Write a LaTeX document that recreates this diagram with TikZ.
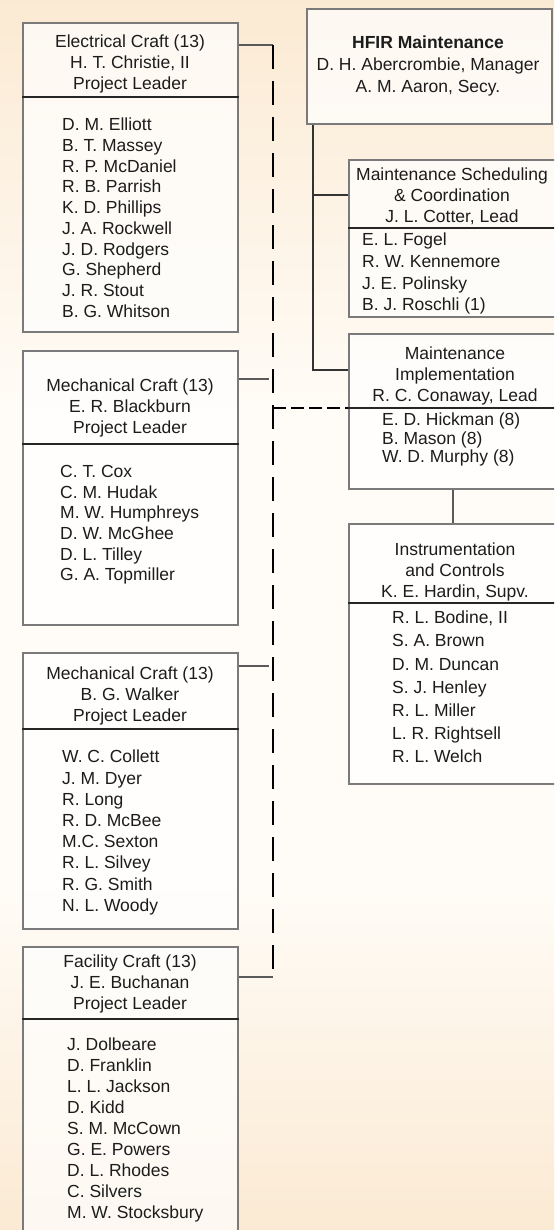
\documentclass[tikz,border=0pt]{standalone}
\usepackage{fontspec}
\setmainfont{Liberation Sans}
\definecolor{boxgray}{HTML}{7A7A7A}
\definecolor{linegray}{HTML}{5A5A5A}
\definecolor{paperedge}{HTML}{FBEAD3}
\definecolor{papermid}{HTML}{FFFCF7}
\definecolor{inkgray}{HTML}{1C1C1C}
\begin{document}
\begin{tikzpicture}[x=1pt,y=-1pt,
  box/.style={draw=boxgray,line width=2.2pt,fill=white,fill opacity=0.7,anchor=north west,inner sep=0,minimum width=#1},
  box/.default=215,
  divider/.style={draw=black!85,line width=2pt},
  title/.style={align=center,inner sep=0,text=inkgray,font=\fontsize{17.5}{#1}\selectfont},
  title/.default=20.8,
  list/.style={anchor=north west,align=left,inner sep=0,text=inkgray,font=\fontsize{17.5}{#1}\selectfont},
  list/.default=20.8,
  link/.style={draw=linegray,line width=2pt},
  spinelink/.style={draw=black!80,line width=2pt},
  dashlink/.style={draw=black,line width=1.8pt,dash pattern=on 24pt off 12pt},
  shortdash/.style={draw=black,line width=2.2pt,dash pattern=on 13pt off 5pt}]
\useasboundingbox (0,0) rectangle (554,1230);
\clip (0,0) rectangle (554,1230);
\shade[top color=paperedge,bottom color=papermid] (0,0) rectangle (554,420);
\fill[papermid] (0,420) rectangle (554,880);
\shade[top color=papermid,bottom color=paperedge] (0,880) rectangle (554,1230);

\node[box,minimum height=309] (elec) at (22,22) {};
\node[box,minimum height=274] (mechA) at (22,350) {};
\node[box,minimum height=276] (mechB) at (22,652) {};
\node[box,minimum height=320] (fac) at (22,946) {};
\node[box=245,minimum height=115] (hfir) at (306,8) {};
\node[box=208,minimum height=157] (sched) at (348,159) {};
\node[box=208,minimum height=155] (impl) at (348,333) {};
\node[box=208,minimum height=260] (instr) at (348,523) {};

\draw[divider] (elec.west |- 0,97) -- (elec.east |- 0,97);
\draw[divider] (mechA.west |- 0,444) -- (mechA.east |- 0,444);
\draw[divider] (mechB.west |- 0,729) -- (mechB.east |- 0,729);
\draw[divider] (fac.west |- 0,1019) -- (fac.east |- 0,1019);
\draw[divider] (sched.west |- 0,228) -- (sched.east |- 0,228);
\draw[divider] (impl.west |- 0,408) -- (impl.east |- 0,408);
\draw[divider] (instr.west |- 0,603) -- (instr.east |- 0,603);

\node[title] (electitle) at (130,64) {Electrical Craft (13)\\H. T. Christie, II\\Project Leader};
\node[title] (mechAtitle) at (130,408) {Mechanical Craft (13)\\E. R. Blackburn\\Project Leader};
\node[title] (mechBtitle) at (130,696) {Mechanical Craft (13)\\B. G. Walker\\Project Leader};
\node[title] (factitle) at (130,984) {Facility Craft (13)\\J. E. Buchanan\\Project Leader};
\node[title=22.3] (hfirtitle) at (428,66) {\textbf{HFIR Maintenance}\\D. H. Abercrombie, Manager\\A. M. Aaron, Secy.};
\node[title] (schedtitle) at (452,196) {Maintenance Scheduling\\\& Coordination\\J. L. Cotter, Lead};
\node[title] (impltitle) at (455,376) {Maintenance\\Implementation\\R. C. Conaway, Lead};
\node[title=21.2] (instrtitle) at (455,572) {Instrumentation\\and Controls\\K. E. Hardin, Supv.};

\node[list=20.7] (eleclist) at (62,118) {D. M. Elliott\\B. T. Massey\\R. P. McDaniel\\R. B. Parrish\\K. D. Phillips\\J. A. Rockwell\\J. D. Rodgers\\G. Shepherd\\J. R. Stout\\B. G. Whitson};
\node[list=20.7] (mechAlist) at (60,465) {C. T. Cox\\C. M. Hudak\\M. W. Humphreys\\D. W. McGhee\\D. L. Tilley\\G. A. Topmiller};
\node[list=21.2] (mechBlist) at (62,750) {W. C. Collett\\J. M. Dyer\\R. Long\\R. D. McBee\\M.C. Sexton\\R. L. Silvey\\R. G. Smith\\N. L. Woody};
\node[list=21] (faclist) at (67,1038) {J. Dolbeare\\D. Franklin\\L. L. Jackson\\D. Kidd\\S. M. McCown\\G. E. Powers\\D. L. Rhodes\\C. Silvers\\M. W. Stocksbury};
\node[list=21.7] (schedlist) at (362,233) {E. L. Fogel\\R. W. Kennemore\\J. E. Polinsky\\B. J. Roschli (1)};
\node[list=18.3] (impllist) at (382,413) {E. D. Hickman (8)\\B. Mason (8)\\W. D. Murphy (8)};
\node[list=23.1] (instrlist) at (392,611) {R. L. Bodine, II\\S. A. Brown\\D. M. Duncan\\S. J. Henley\\R. L. Miller\\L. R. Rightsell\\R. L. Welch};

\coordinate (dtop) at (273,45);
\coordinate (dmid) at (273,408);
\coordinate (dbot) at (273,977);
\coordinate (stubA) at (269,379);
\coordinate (stubB) at (269,666);
\coordinate (spine) at (313,370);
\coordinate (fork) at (313,195);

\draw[link] (elec.north east) ++(0,23) -- (dtop);
\draw[dashlink] (dtop) -- (dbot);
\draw[link] (fac.north east) ++(0,31) -- (dbot);
\draw[link] (mechA.north east) ++(0,29) -- (stubA);
\draw[link] (mechB.north east) ++(0,14) -- (stubB);
\draw[shortdash] (dmid) -- (dmid -| impl.west);
\draw[spinelink] (hfir.south west) ++(7,0) -- (spine) -- (spine -| impl.west);
\draw[spinelink] (fork) -- (fork -| sched.west);
\draw[link] (impl.south) -- (instr.north);
\end{tikzpicture}
\end{document}
